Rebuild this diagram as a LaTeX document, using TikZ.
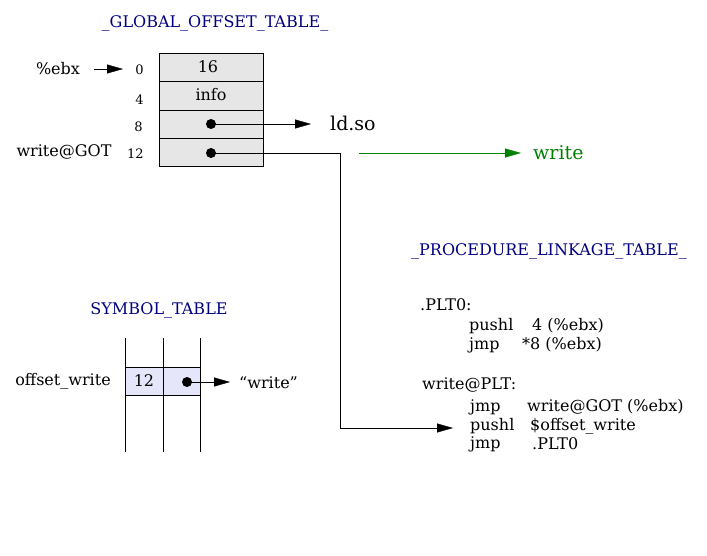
\documentclass[tikz,border=0pt]{standalone}
\usepackage{fontspec}
\setmainfont{DejaVu Serif}
\usetikzlibrary{arrows.meta}
\definecolor{navy}{RGB}{0,0,128}
\definecolor{ggreen}{RGB}{0,128,0}
\definecolor{gotfill}{RGB}{230,230,230}
\definecolor{symfill}{RGB}{230,230,250}
\begin{document}
\begin{tikzpicture}[x=1pt,y=-1pt,
  txt/.style={inner sep=0pt,font=\fontsize{16}{18}\selectfont},
  lt/.style={txt,anchor=west},
  big/.style={lt,font=\fontsize{19}{22}\selectfont},
  small/.style={inner sep=0pt,font=\fontsize{13}{15}\selectfont},
  title/.style={txt,text=navy},
  cell/.style={draw,line width=0.8pt,fill=gotfill},
  tip/.style={-{Triangle[length=16pt,width=9pt]}},
  dotc/.style={circle,fill=black,inner sep=0pt,minimum size=10pt}]
\useasboundingbox (0,0) rectangle (707,556);
% GOT
\node[title] (gottitle) at (215,23) {\_GLOBAL\_OFFSET\_TABLE\_};
\draw[cell] (159,53) rectangle (263,81);
\draw[cell] (159,81) rectangle (263,110);
\draw[cell] (159,110) rectangle (263,138);
\draw[cell] (159,138) rectangle (263,166);
\node[txt] (v16) at (208,67) {16};
\node[txt] (vinfo) at (211,95) {info};
\node[dotc] (d8) at (211,124) {};
\node[dotc] (d12) at (211,153) {};
\node[small] (o0) at (139.5,70) {0};
\node[small] (o4) at (139.5,100) {4};
\node[small] (o8) at (138.5,127) {8};
\node[small] (o12) at (135.5,154) {12};
\node[txt] (ebx) at (58,69) {\%ebx};
\coordinate (ebxs) at (94,69);
\coordinate (ebxe) at (123,69);
\draw[tip] (ebxs) -- (ebxe);
\node[txt] (wgot) at (64,152) {write@GOT};
\node[big] (ldso) at (330,123) {ld.so};
\coordinate (ldtip) at (311,124);
\draw[tip] (d8.center) -- (ldtip);
% write line
\coordinate (c1) at (340,153);
\coordinate (c2) at (340,428);
\coordinate (c3) at (453,428);
\draw (d12.center) -- (c1) -- (c2);
\draw[tip] (c2) -- (c3);
\coordinate (gs) at (359,153);
\node[big,text=ggreen] (wr) at (533,153) {write};
\coordinate (gtip) at (521,153);
\draw[ggreen,tip] (gs) -- (gtip);
% PLT
\node[title] (plttitle) at (549,251) {\_PROCEDURE\_LINKAGE\_TABLE\_};
\node[lt] (plt0) at (420,305) {.PLT0:};
\node[lt] (p1a) at (469,326) {pushl};
\node[lt] (p1b) at (532,326) {4 (\%ebx)};
\node[lt] (p2a) at (469,345) {jmp};
\node[lt] (p2b) at (522,345) {*8 (\%ebx)};
\node[lt] (wplt) at (422,385) {write@PLT:};
\node[lt] (q1a) at (470,407) {jmp};
\node[lt] (q1b) at (527,407) {write@GOT (\%ebx)};
\node[lt] (q2a) at (470,426) {pushl};
\node[lt] (q2b) at (530,426) {\$offset\_write};
\node[lt] (q3a) at (470,444) {jmp};
\node[lt] (q3b) at (532,444) {.PLT0};
% symbol table
\node[title] (symtitle) at (159,310) {SYMBOL\_TABLE};
\draw[line width=0.8pt,fill=symfill] (125,367) rectangle (200,395);
\draw[line width=0.8pt] (125,338) -- (125,452);
\draw[line width=0.8pt] (163,338) -- (163,452);
\draw[line width=0.8pt] (200,338) -- (200,452);
\node[txt] (s12) at (144,381) {12};
\node[dotc] (sd) at (187,382) {};
\coordinate (stip) at (230,382);
\draw[tip] (sd.center) -- (stip);
\node[lt] (sw) at (239,383) {“write”};
\node[txt] (ow) at (63,381) {offset\_write};
\end{tikzpicture}
\end{document}
